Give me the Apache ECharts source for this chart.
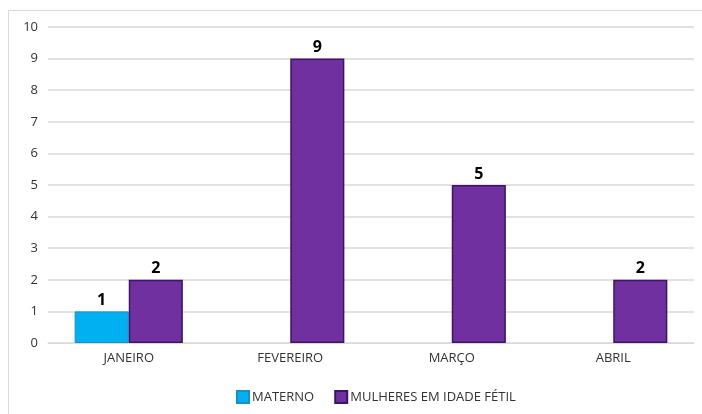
<!DOCTYPE html>
<html>
<head>
<meta charset="utf-8">
<script src="https://cdn.jsdelivr.net/npm/echarts@6/dist/echarts.min.js"></script>
<style>
  html, body { margin: 0; padding: 0; background: #fff; }
  #chart { width: 702px; height: 414px; }
</style>
</head>
<body>
<div id="chart"></div>
<script>
// Monthly counts by group
const months = ['JANEIRO', 'FEVEREIRO', 'MARÇO', 'ABRIL'];
const materno = [1, null, null, null];
const mulheresIdadeFertil = [2, 9, 5, 2];
const yTicks = { min: 0, max: 10, interval: 1 };

const chart = echarts.init(document.getElementById('chart'));
const FONT = '"Open Sans", "DejaVu Sans", sans-serif';

const valueLabel = {
  show: true,
  position: 'top',
  distance: 3,
  color: '#000',
  fontWeight: 'bold',
  fontSize: 16,
  fontFamily: FONT
};

chart.setOption({
  animation: false,
  textStyle: { fontFamily: FONT },
  graphic: [{
    type: 'rect',
    shape: { x: 8.5, y: 10.5, width: 720, height: 420 },
    style: { fill: 'none', stroke: '#d9d9d9', lineWidth: 1 },
    silent: true
  }],
  grid: { left: 48, right: 8, top: 27, bottom: 71, containLabel: false },
  legend: {
    left: 231,
    top: 385,
    itemWidth: 12,
    itemHeight: 12,
    itemGap: 20,
    icon: 'rect',
    textStyle: { color: '#333', fontSize: 13, fontFamily: FONT, padding: [0, 0, 0, -2] },
    data: ['MATERNO', 'MULHERES EM IDADE FÉTIL']
  },
  xAxis: {
    type: 'category',
    data: months,
    axisLine: { show: true, lineStyle: { color: '#d9d9d9', width: 1 } },
    axisTick: { show: false },
    axisLabel: { color: '#333', fontSize: 13, margin: 9, fontFamily: FONT }
  },
  yAxis: {
    type: 'value',
    min: yTicks.min,
    max: yTicks.max,
    interval: yTicks.interval,
    axisLine: { show: false },
    axisTick: { show: false },
    axisLabel: { color: '#333', fontSize: 13, margin: 10, fontFamily: FONT },
    splitLine: { lineStyle: { color: '#d9d9d9', width: 1.5 } }
  },
  series: [
    {
      name: 'MATERNO',
      type: 'bar',
      data: materno,
      barGap: '0%',
      barCategoryGap: '33%',
      itemStyle: { color: '#00B0F0', borderColor: '#1b8fc0', borderWidth: 1 },
      label: valueLabel
    },
    {
      name: 'MULHERES EM IDADE FÉTIL',
      type: 'bar',
      data: mulheresIdadeFertil,
      barGap: '0%',
      barCategoryGap: '33%',
      itemStyle: { color: '#7030A0', borderColor: '#3d1466', borderWidth: 1.5 },
      label: valueLabel
    }
  ]
});
</script>
</body>
</html>
